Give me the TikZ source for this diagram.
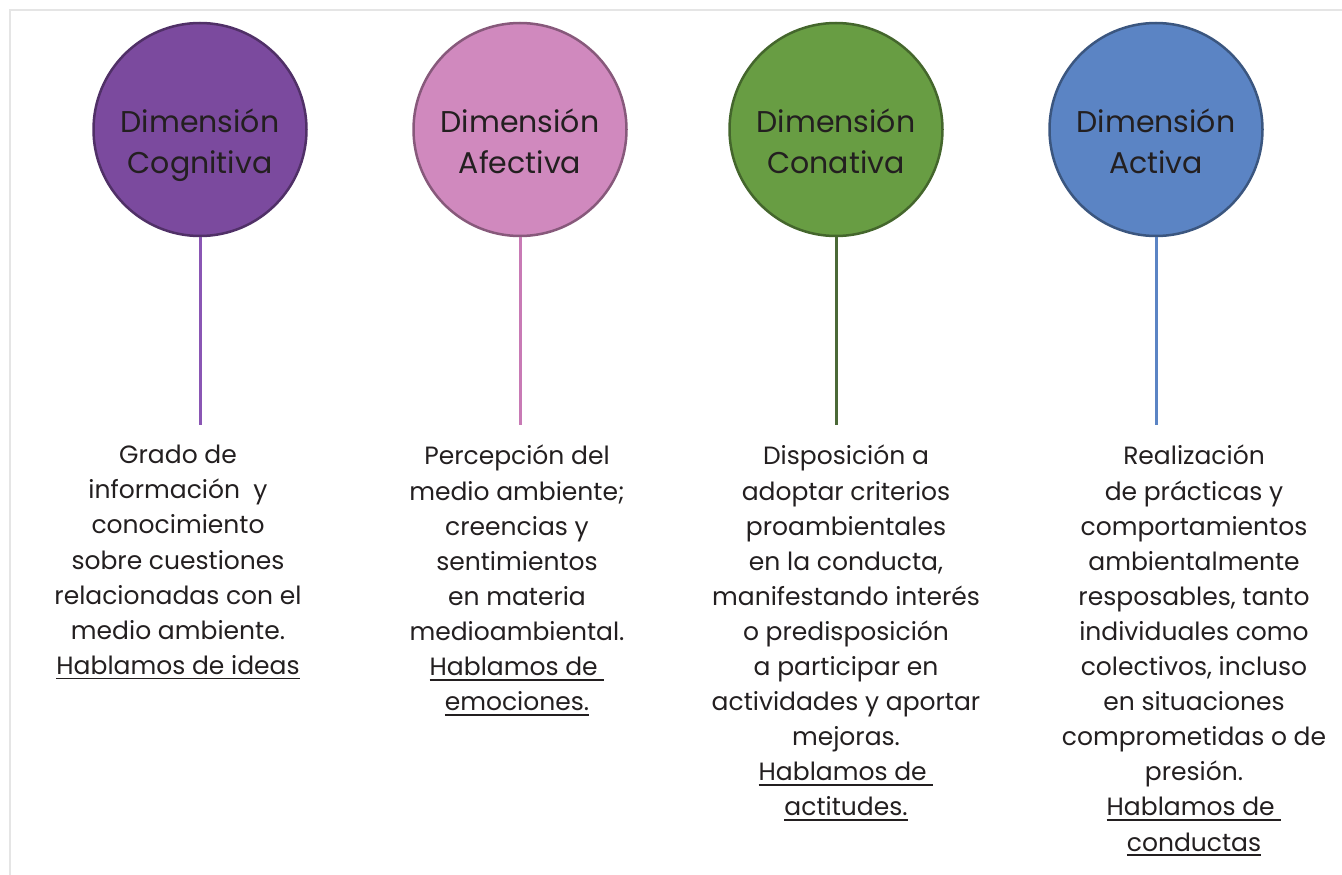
\documentclass[tikz,border=0pt]{standalone}
\usepackage{fontspec}
\usetikzlibrary{positioning}
\setmainfont{Poppins}
\definecolor{cogfill}{HTML}{7B4A9E}
\definecolor{cogline}{HTML}{8A56B4}
\definecolor{affill}{HTML}{D089BE}
\definecolor{afline}{HTML}{C87AB5}
\definecolor{confill}{HTML}{689D43}
\definecolor{conline}{HTML}{4B6937}
\definecolor{actfill}{HTML}{5B84C4}
\definecolor{actline}{HTML}{5B84C4}
\definecolor{txtgray}{HTML}{231F20}
\newcommand\titlefont{\fontsize{30}{41}\selectfont}
\newcommand\descfont{\fontsize{25}{35.1}\selectfont}
\newsavebox\undlbox
\newcommand\undl[1]{\sbox\undlbox{#1}\leavevmode\rlap{\usebox\undlbox}\rule[-5pt]{\wd\undlbox}{1.8pt}}
\tikzset{
  dimcirc/.style={circle, minimum size=213pt, inner sep=0pt, fill=#1,
    draw=#1!65!black, line width=2.5pt},
  dimtitle/.style={align=center, font=\titlefont, text=txtgray, yshift=-18pt},
  stem/.style={line width=3pt},
  desc/.style={anchor=north, align=center, inner sep=0pt, font=\descfont,
    text=txtgray},
  frame/.style={draw=black!10, line width=2pt}
}
\begin{document}
\begin{tikzpicture}[x=1pt,y=-1pt]
  \useasboundingbox (0,0) rectangle (1342,875);
  \coordinate (frtl) at (10,10);
  \coordinate (frtr) at (1342,10);
  \coordinate (frbl) at (10,875);
  \draw[frame] (frtr) -- (frtl) -- (frbl);

  % the four balloons
  \node[dimcirc=cogfill, label={[dimtitle]center:Dimensión\\Cognitiva\strut}] (cog) at (200,129.5) {};
  \node[dimcirc=affill, label={[dimtitle]center:Dimensión\\Afectiva\strut}] (af) at (520,129.5) {};
  \node[dimcirc=confill, label={[dimtitle]center:Dimensión\\Conativa\strut}] (con) at (836,129.5) {};
  \node[dimcirc=actfill, label={[dimtitle]center:Dimensión\\Activa\strut}] (act) at (1156,129.5) {};

  \coordinate [below=188pt of cog.south] (cogend);
  \coordinate [below=188pt of af.south]  (afend);
  \coordinate [below=188pt of con.south] (conend);
  \coordinate [below=188pt of act.south] (actend);
  \draw[stem, cogline] (cog.south) -- (cogend);
  \draw[stem, afline]  (af.south)  -- (afend);
  \draw[stem, conline] (con.south) -- (conend);
  \draw[stem, actline] (act.south) -- (actend);

  % descriptions
  \node[desc] (cogtxt) at (178,445) {Grado de\\información\ \ y\\conocimiento\\sobre cuestiones\\relacionadas con el\\medio ambiente.\\\undl{Hablamos de ideas}};
  \node[desc] (aftxt) at (517,445) {Percepción del\\medio ambiente;\\creencias y\\sentimientos\\en materia\\medioambiental.\\\undl{Hablamos de\ }\\\undl{emociones.}};
  \node[desc] (contxt) at (846,445) {Disposición a\\adoptar criterios\\proambientales\\en la conducta,\\manifestando interés\\o predisposición\\a participar en\\actividades y aportar\\mejoras.\\\undl{Hablamos de\ }\\\undl{actitudes.}};
  \node[desc] (acttxt) at (1194,445) {Realización\\de prácticas y\\comportamientos\\ambientalmente\\resposables, tanto\\individuales como\\colectivos, incluso\\en situaciones\\comprometidas o de\\presión.\\\undl{Hablamos de\ }\\\undl{conductas}};
\end{tikzpicture}
\end{document}
